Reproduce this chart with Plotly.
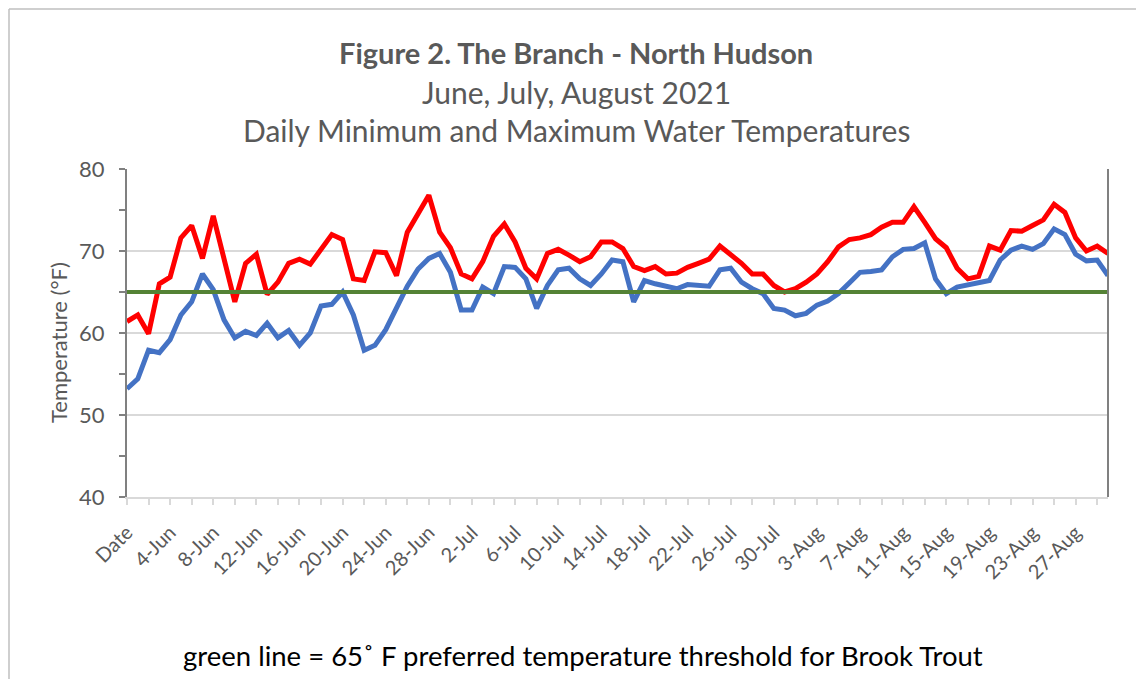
import pandas as pd
import plotly.graph_objects as go

# ---- data ----
dates = ["Date"] + [f"{d.day}-{d.strftime('%b')}" for d in pd.date_range("2021-06-01", "2021-08-30")]

max_temp = [61.4, 62.2, 59.9, 66.0, 66.8, 71.6, 73.1, 69.1, 74.3, 68.9,
            63.8, 68.5, 69.6, 64.7, 66.2, 68.5, 69.0, 68.4, 70.2, 72.0,
            71.4, 66.6, 66.4, 69.9, 69.8, 67.0, 72.3, 74.7, 76.8, 72.3,
            70.4, 67.2, 66.6, 68.7, 71.8, 73.3, 71.1, 67.9, 66.6, 69.7,
            70.2, 69.5, 68.7, 69.3, 71.1, 71.1, 70.3, 68.1, 67.6, 68.1,
            67.2, 67.3, 68.0, 68.5, 69.0, 70.6, 69.5, 68.5, 67.2, 67.2,
            65.8, 65.0, 65.4, 66.2, 67.2, 68.7, 70.5, 71.4, 71.6, 72.0,
            72.9, 73.5, 73.5, 75.4, 73.5, 71.5, 70.4, 67.9, 66.6, 66.9,
            70.6, 70.1, 72.5, 72.4, 73.1, 73.8, 75.7, 74.7, 71.6, 70.0,
            70.6, 69.7]

min_temp = [53.2, 54.4, 57.9, 57.6, 59.2, 62.2, 63.8, 67.2, 65.3, 61.6,
            59.4, 60.2, 59.7, 61.2, 59.4, 60.3, 58.5, 60.0, 63.3, 63.5,
            65.0, 62.2, 57.9, 58.5, 60.4, 63.2, 65.7, 67.8, 69.1, 69.7,
            67.4, 62.8, 62.8, 65.6, 64.8, 68.1, 68.0, 66.6, 63.0, 65.8,
            67.7, 67.9, 66.6, 65.8, 67.2, 68.9, 68.7, 63.8, 66.4, 66.0,
            65.7, 65.4, 65.9, 65.8, 65.7, 67.7, 67.9, 66.2, 65.4, 64.8,
            63.0, 62.8, 62.1, 62.4, 63.4, 63.9, 64.8, 66.1, 67.4, 67.5,
            67.7, 69.3, 70.2, 70.3, 71.0, 66.6, 64.8, 65.6, 65.9, 66.1,
            66.4, 68.9, 70.1, 70.6, 70.2, 70.9, 72.7, 72.0, 69.6, 68.8,
            68.9, 67.0]

threshold = 65

tick_vals = dates[::2]
tick_text = [d if i % 4 == 0 else "" for i, d in enumerate(dates) if i % 2 == 0]

FONT = "Lato"
GRAY = "#595959"

fig = go.Figure()
fig.add_trace(go.Scatter(x=dates, y=max_temp, mode="lines",
                         line=dict(color="#FF0000", width=5), name="Max"))
fig.add_trace(go.Scatter(x=dates, y=min_temp, mode="lines",
                         line=dict(color="#4472C4", width=5), name="Min"))
fig.add_hline(y=threshold, line=dict(color="#548235", width=4), layer="above")

OFF = 8  # page body margin in the browser
W, H = 1144 - OFF, 679 - OFF
L, R, T, B = 127 - OFF, 36, 169 - OFF, 182
pw, ph = W - L - R, H - T - B

def px(x):  # screen pixel x -> paper
    return (x - OFF - L) / pw

def py(y):  # screen pixel y -> paper
    return (H - B - (y - OFF)) / ph

fig.update_layout(
    width=W, height=H,
    margin=dict(l=L, r=R, t=T, b=B, autoexpand=False),
    paper_bgcolor="white", plot_bgcolor="white",
    showlegend=False,
    font=dict(family=FONT, color=GRAY),
    xaxis=dict(
        type="category", range=[0, len(dates) - 1], automargin=False,
        tickmode="array", tickvals=tick_vals, ticktext=tick_text,
        tickangle=-45, tickfont=dict(size=20, color=GRAY), ticklabelstandoff=8,
        showline=True, linecolor="#D9D9D9", linewidth=2,
        ticks="outside", ticklen=6, tickcolor="#D9D9D9", tickwidth=1.5,
        showgrid=False, zeroline=False,
    ),
    yaxis=dict(
        range=[40, 80], dtick=10, tick0=40, automargin=False,
        tickfont=dict(size=22, color=GRAY), ticklabelstandoff=10,
        showline=True, linecolor="#808080", linewidth=2,
        ticks="outside", ticklen=6, tickcolor="#808080", tickwidth=1.5,
        minor=dict(dtick=5, ticks="outside", ticklen=6, tickcolor="#808080", tickwidth=1.5, showgrid=False),
        showgrid=True, gridcolor="#D9D9D9", gridwidth=1.5,
        zeroline=False,
    ),
    shapes=[
        dict(type="line", xref="paper", yref="paper", x0=0, x1=1, y0=1, y1=1,
             line=dict(color="#808080", width=2)),
        dict(type="line", xref="paper", yref="paper", x0=1, x1=1, y0=0, y1=1,
             line=dict(color="#808080", width=2)),
        # outer chart frame (left, top, right edges)
        dict(type="line", xref="paper", yref="paper", x0=px(9), x1=px(9), y0=py(9), y1=py(679),
             line=dict(color="#BFBFBF", width=1.5)),
        dict(type="line", xref="paper", yref="paper", x0=px(9), x1=px(1138), y0=py(9), y1=py(9),
             line=dict(color="#BFBFBF", width=1.5)),
        dict(type="line", xref="paper", yref="paper", x0=px(1138), x1=px(1138), y0=py(9), y1=py(679),
             line=dict(color="#BFBFBF", width=1.5)),
    ],
    annotations=[
        dict(text="<b>Figure 2. The Branch - North Hudson</b>", xref="paper", yref="paper",
             x=px(576), y=py(52), showarrow=False, font=dict(size=29, color=GRAY),
             xanchor="center", yanchor="middle"),
        dict(text="June, July, August 2021", xref="paper", yref="paper",
             x=px(576), y=py(92), showarrow=False, font=dict(size=30, color=GRAY),
             xanchor="center", yanchor="middle"),
        dict(text="Daily Minimum and Maximum Water Temperatures", xref="paper", yref="paper",
             x=px(576), y=py(130), showarrow=False, font=dict(size=30, color=GRAY),
             xanchor="center", yanchor="middle"),
        dict(text="Temperature (°F)", xref="paper", yref="paper",
             x=px(58), y=py(343), showarrow=False, textangle=-90,
             font=dict(size=22, color=GRAY), xanchor="center", yanchor="middle"),
        dict(text="green line = 65˚ F preferred temperature threshold for Brook Trout",
             xref="paper", yref="paper", x=px(583), y=py(655), showarrow=False,
             font=dict(size=27.5, color="#000000"), xanchor="center", yanchor="middle"),
    ],
)

fig.write_html("out.html")
